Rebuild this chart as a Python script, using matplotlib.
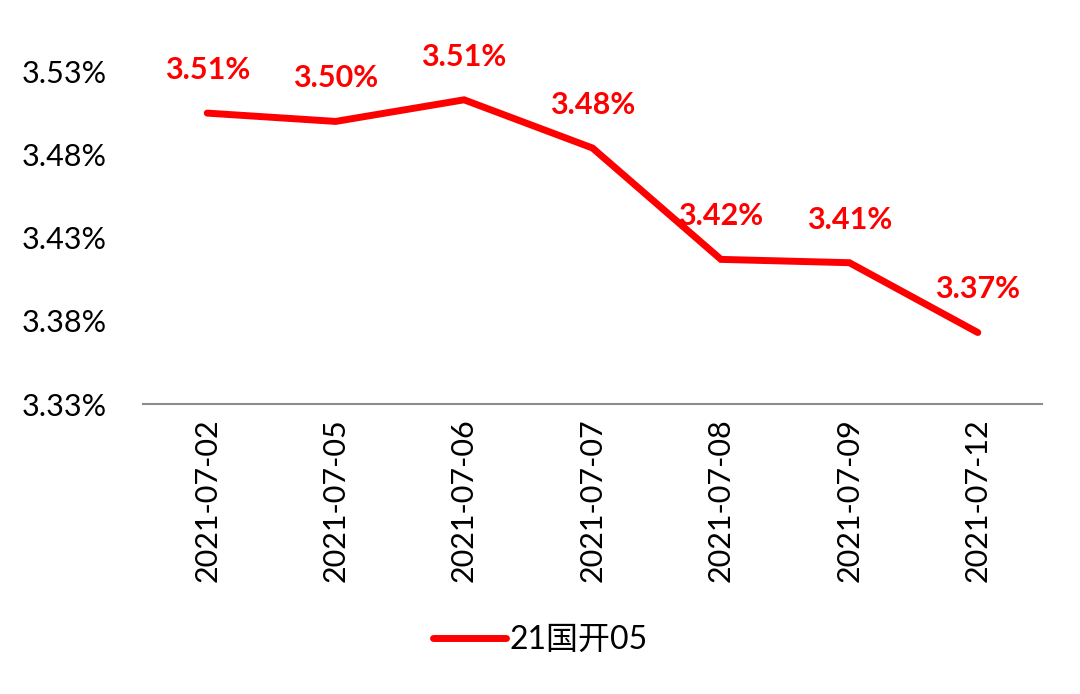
import matplotlib
matplotlib.use('Agg')
import matplotlib.pyplot as plt
from matplotlib.ticker import FuncFormatter

dates = ['2021-07-02', '2021-07-05', '2021-07-06', '2021-07-07',
         '2021-07-08', '2021-07-09', '2021-07-12']
yields = [3.505, 3.500, 3.513, 3.484, 3.417, 3.415, 3.373]
point_labels = ['3.51%', '3.50%', '3.51%', '3.48%', '3.42%', '3.41%', '3.37%']
y_ticks = [3.33, 3.38, 3.43, 3.48, 3.53]
series_name = '21国开05'

plt.rcParams['font.family'] = ['Lato', 'Noto Sans CJK SC', 'DejaVu Sans']

fig = plt.figure(figsize=(10.8, 6.94), dpi=100)
ax = fig.add_axes([143 / 1080, 1 - 404 / 694, (1042 - 143) / 1080, (404 - 30) / 694])

x = list(range(len(dates)))
ax.plot(x, yields, color='#FF0000', lw=5, solid_capstyle='round',
        solid_joinstyle='miter', label=series_name)

for xi, yi, lab in zip(x, yields, point_labels):
    ax.annotate(lab, (xi, yi), xytext=(0, 31), textcoords='offset points',
                ha='center', va='center', color='#FF0000', fontsize=22,
                fontweight='bold')

ax.set_xlim(-0.5, len(dates) - 0.5)
ax.set_ylim(3.33, 3.555)
ax.set_yticks(y_ticks)
ax.yaxis.set_major_formatter(FuncFormatter(lambda v, p: f'{v:.2f}%'))
ax.set_xticks(x)
ax.set_xticklabels(dates, rotation=90)

for s in ['top', 'right', 'left']:
    ax.spines[s].set_visible(False)
ax.spines['bottom'].set_color('#8c8c8c')
ax.spines['bottom'].set_linewidth(1.5)
ax.tick_params(axis='y', length=0, labelsize=22, colors='black', pad=26)
ax.tick_params(axis='x', length=0, labelsize=22, colors='black', pad=10)

fig.legend(loc='center', bbox_to_anchor=(0.5, 1 - 640 / 694), frameon=False,
           fontsize=23, handlelength=2.3, handletextpad=0.1)

fig.savefig('out.png', dpi=100)
